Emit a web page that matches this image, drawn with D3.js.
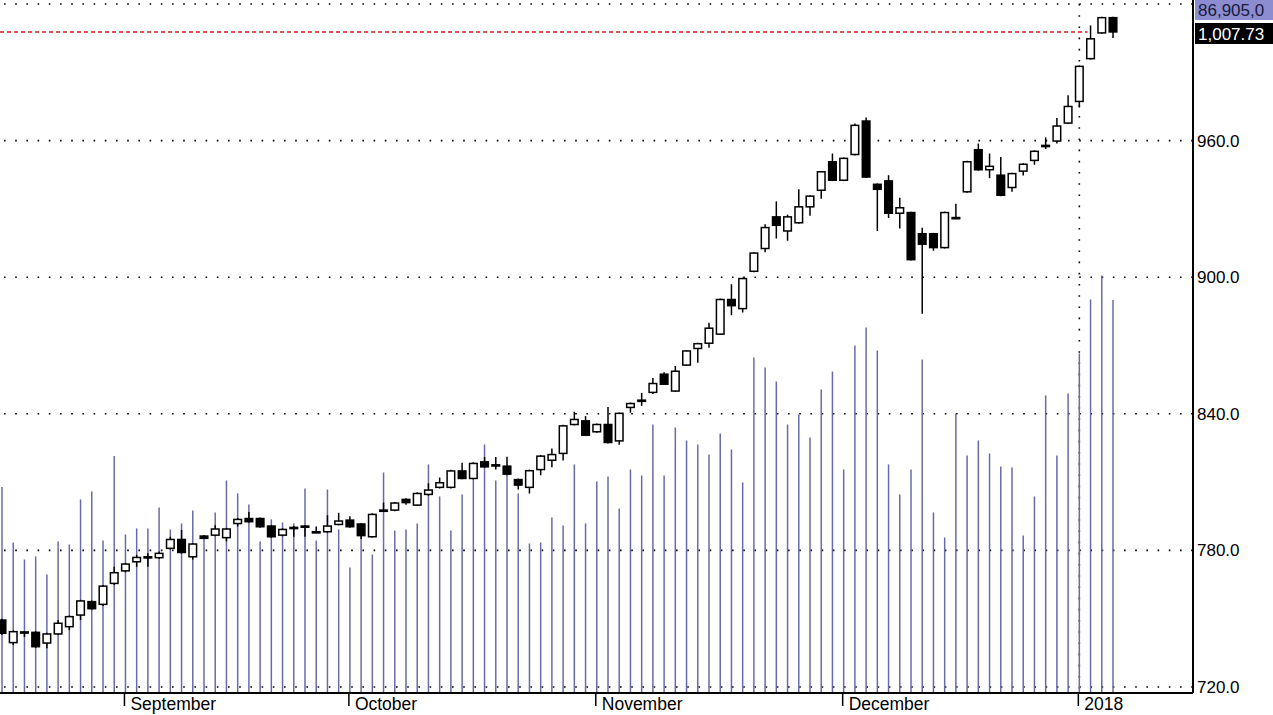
<!DOCTYPE html>
<html><head><meta charset="utf-8">
<script src="https://cdn.jsdelivr.net/npm/d3@7"></script>
<style>body{margin:0;background:#fff}svg{display:block}text{font-family:"Liberation Sans",Arial,sans-serif}</style>
</head><body><svg id="c" width="1273" height="715"></svg>
<script>
const opens =[749.4,739.5,744,744,739.3,743.3,746.5,751.6,757.5,756.3,765.5,771,775,777,776.8,780.9,784.8,777.2,786.3,786.7,785.6,791.8,794,794,790.7,786.7,790.1,790.7,788.2,788.2,791.4,793.3,791.6,786,797.5,797.7,802.4,799.9,804.6,807.7,807.7,814.9,811.6,818.9,817.5,817,811.1,807.7,815.5,819.6,822.6,835.3,836.9,832.1,835.3,828.1,842.8,846,849.4,857.4,850,861.4,868.7,871,875,890.2,886.2,902.6,912.6,926.5,920.3,923.9,930.9,938.2,950.7,942.6,953.9,968.6,940.8,942.3,928.1,928.4,919.1,919.1,913,926.2,937.5,956,947.2,944.8,939.4,946.6,951.3,957.9,959.8,967.7,977.2,996,1007.3,1014];
const highs =[750,744.8,744.5,744.5,743.8,749.4,751.4,758.3,758,764.8,772.8,774.5,778,778.8,779.5,786,789,783.3,786.8,791,789.9,794.3,796.9,794.5,791.2,789.7,790.7,791,790.5,795.5,796.5,795,792,796.3,801,801.3,802.9,805.5,809.5,812,815.4,818.5,818.7,821,821,821.1,811.6,815.5,821.9,824.8,835.2,840.9,839,835.7,843,840.6,845,849.2,855.7,858.2,861,868,871.2,880,890.6,896.9,899.8,911,923.3,933.3,927.5,938.6,936,946.7,954.3,952.6,967.5,970.1,941.2,944.8,934.9,928.8,921.7,919.5,928.8,932.3,951.1,958.7,954.3,952.8,945.9,950,955.7,961.4,969.9,979.9,993,1010.6,1014.4,1014.4];
const lows  =[743,738.4,742,737.2,737,742.8,745,749.4,754,755.6,764.8,770.4,772.8,772.8,776.3,780.4,778.6,776,785,786.2,784,790.5,792.2,790,785.6,786.2,786,786,787.9,787.8,791,790,785,785.6,797.2,797.2,800,799.5,804,807.2,807.2,811.2,811.2,816.3,815.5,813,806.8,805,813,816.5,819.5,834.9,830.2,831.7,827,826.4,840.5,843.5,848.7,852.6,849.6,861,862.4,869,874.6,883.3,884.5,902.2,911,917,916,923.5,927,934.5,942.2,942.2,953.5,943.6,920.3,926,921.4,907.3,884,911.6,912.6,925.8,937.1,946.8,943.5,935.6,937.5,944.7,949.4,956.3,958.7,967.3,974.5,995.6,1006.9,1005.1];
const closes=[743.6,744.3,744.2,737.7,743.3,748,750.9,757.8,754.4,764.3,770.2,774,776.9,777.2,778.7,784.8,779.1,782.8,785.3,789.4,789.4,793.6,792.6,790.4,786,789.2,790,790.5,788.2,790.7,792.9,790.4,786.5,795.8,797.7,800.8,801,805,806.5,809.7,814.9,811.6,818.2,816.7,817.6,813.5,808.7,815,821.4,822.1,834.7,837.5,830.6,835.3,827.4,840.2,844.5,846,853.3,853,858.7,867.6,870.8,877.6,890.2,887.5,899.4,910.6,921.8,922.8,926.5,930.9,935.6,946.3,942.6,952.2,966.7,944,938.6,928.1,930.5,907.7,914.5,913,928.4,926.2,950.7,947.2,948.7,936,945.5,949.6,955.3,957.9,966.4,975,992.6,1004.7,1014,1007.73];
// volume in thousands of shares
const volumes=[45350,33020,29240,29910,25910,33240,32570,42580,44360,33460,52250,34800,36140,36140,40810,35910,37250,40140,34130,39690,46800,43920,41470,33240,38140,37470,37250,45020,33460,44800,35910,27460,37250,30350,48580,35690,35910,37250,50360,43250,35690,43700,48140,54810,46800,48360,43920,32790,33020,38580,36800,50360,37250,46580,47690,40590,49250,47910,59240,47910,58570,55680,54800,52580,57240,53690,46360,74150,71930,68820,59240,61470,56360,67040,71040,49250,76820,80820,75710,50360,43700,49250,73700,39690,34130,61690,52360,55690,52800,49920,49690,34580,43250,65710,52360,66150,75040,87050,92380,86905];
const priceTicks=[720,780,840,900,960,1020];
const monthLabels=["September","October","November","December","2018"];
const monthIdx=[11,31,53,75,96];
const lastVolumeLabel="86,905,0";

const svg=d3.select("#c");
const x=d3.scaleLinear().domain([0,99]).range([2,1113]);
const y=d3.scaleLinear().domain([720,1020]).range([687,4]);
const v=d3.scaleLinear().domain([0,153600]).range([691,0]);
const n=opens.length;
const idx=d3.range(n);

svg.append("g").selectAll("line").data(priceTicks).join("line")
 .attr("x1",4).attr("x2",1192).attr("y1",d=>y(d)).attr("y2",d=>y(d))
 .attr("stroke","#000").attr("stroke-width",1.6).attr("stroke-dasharray","1.6,9.6");
svg.append("line").attr("x1",x(96)).attr("x2",x(96)).attr("y1",4).attr("y2",692)
 .attr("stroke","#000").attr("stroke-width",1.6).attr("stroke-dasharray","1.6,9.6");

svg.append("g").selectAll("line").data(idx).join("line")
 .attr("x1",i=>x(i)).attr("x2",i=>x(i)).attr("y1",i=>v(volumes[i])).attr("y2",692)
 .attr("stroke","#6a6aaa").attr("stroke-width",1.5);

svg.append("line").attr("x1",0).attr("x2",x(96)+8).attr("y1",y(closes[n-1])).attr("y2",y(closes[n-1]))
 .attr("stroke","#d81818").attr("stroke-width",1.4).attr("stroke-dasharray","4,3");

const g=svg.append("g");
g.selectAll("line.w").data(idx).join("line").attr("class","w")
 .attr("x1",i=>x(i)).attr("x2",i=>x(i)).attr("y1",i=>y(highs[i])).attr("y2",i=>y(lows[i]))
 .attr("stroke","#000").attr("stroke-width",1.5);
g.selectAll("rect").data(idx).join("rect")
 .attr("x",i=>x(i)-3.8).attr("width",7.6)
 .attr("y",i=>y(Math.max(opens[i],closes[i])))
 .attr("height",i=>Math.max(1.2,Math.abs(y(opens[i])-y(closes[i]))))
 .attr("fill",i=>closes[i]<opens[i]?"#000":"#fff")
 .attr("stroke","#000").attr("stroke-width",1.5);

svg.append("line").attr("x1",1193).attr("x2",1193).attr("y1",0).attr("y2",693).attr("stroke","#000").attr("stroke-width",2);
svg.append("line").attr("x1",0).attr("x2",1193).attr("y1",693).attr("y2",693).attr("stroke","#000").attr("stroke-width",2);

svg.append("g").selectAll("text").data(priceTicks.filter(d=>d<1000)).join("text")
 .attr("x",1197).attr("y",d=>y(d)+6).attr("font-size",17).attr("fill","#000")
 .text(d=>d3.format(".1f")(d));

const mt=svg.append("g");
mt.selectAll("line").data(monthIdx).join("line")
 .attr("x1",i=>x(i)-1).attr("x2",i=>x(i)-1).attr("y1",693).attr("y2",706).attr("stroke","#000").attr("stroke-width",1.5);
mt.selectAll("text").data(monthIdx).join("text")
 .attr("x",i=>x(i)+5).attr("y",710).attr("font-size",17.5).attr("fill","#000")
 .text((d,k)=>monthLabels[k]);

svg.append("rect").attr("x",1195).attr("y",0).attr("width",78).attr("height",20).attr("fill","#8c8cd0");
svg.append("text").attr("x",1198).attr("y",16).attr("font-size",17).attr("fill","#1a1a3a").text(lastVolumeLabel);
svg.append("rect").attr("x",1195).attr("y",23).attr("width",78).attr("height",21).attr("fill","#000");
svg.append("text").attr("x",1198).attr("y",40).attr("font-size",17).attr("fill","#fff").text(d3.format(",.2f")(closes[n-1]));
</script></body></html>
